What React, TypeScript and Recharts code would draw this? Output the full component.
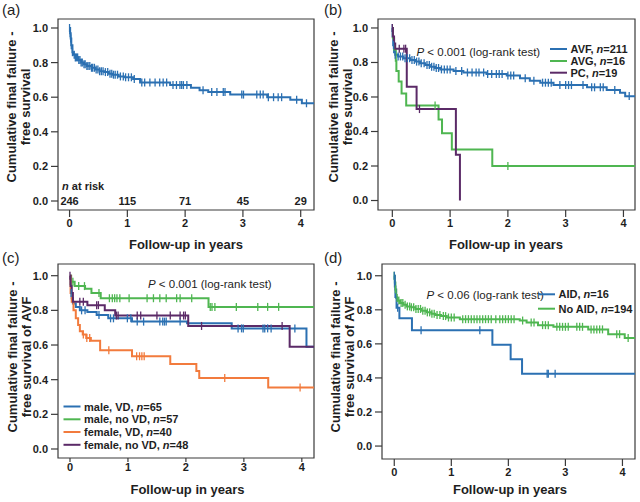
import React from 'react';
import { ComposedChart, Line, XAxis, YAxis, ReferenceArea, ReferenceDot } from 'recharts';

const FONT = '"Liberation Sans", Arial, Helvetica, sans-serif';
const C_BLUE = '#2b70b2';
const C_GREEN = '#4fb651';
const C_ORANGE = '#f27b3d';
const C_PURPLE = '#5b2a67';
const C_TEXT = '#1e1e1e';
const C_BOX = '#3a3a3a';

const X_TICKS = [0, 1, 2, 3, 4];
const Y_TICKS = [0, 0.2, 0.4, 0.6, 0.8, 1.0];

// ---------- Panel (a): all accesses ----------
const aTimes = [0, 0.01, 0.02, 0.03, 0.05, 0.07, 0.1, 0.15, 0.2, 0.25, 0.3, 0.38, 0.45, 0.52, 0.6, 0.68, 0.75, 0.85, 0.95, 1.1, 1.22, 1.74, 2.1, 2.25, 2.4, 2.78, 3.42, 3.82, 4.02];
const aSurv = [1.0, 0.97, 0.94, 0.9, 0.86, 0.845, 0.83, 0.815, 0.8, 0.79, 0.78, 0.77, 0.76, 0.75, 0.745, 0.735, 0.73, 0.72, 0.715, 0.705, 0.685, 0.67, 0.655, 0.64, 0.63, 0.615, 0.6, 0.585, 0.565];
const aCensor = [0.0, 0.01, 0.02, 0.03, 0.05, 0.08, 0.1, 0.12, 0.14, 0.16, 0.18, 0.2, 0.22, 0.25, 0.27, 0.3, 0.32, 0.35, 0.38, 0.4, 0.43, 0.46, 0.49, 0.52, 0.55, 0.58, 0.62, 0.66, 0.7, 0.73, 0.76, 0.79, 0.83, 0.88, 0.93, 0.97, 1.02, 1.07, 1.12, 1.25, 1.3, 1.39, 1.48, 1.56, 1.62, 1.68, 1.79, 1.85, 1.91, 1.94, 1.97, 2.03, 2.31, 2.46, 2.55, 2.66, 2.69, 2.98, 3.01, 3.24, 3.3, 3.35, 3.44, 3.53, 3.61, 3.67, 3.93, 4.1];
const aEnd = 4.23;
const riskTimes = [0, 1, 2, 3, 4];
const riskCounts = [246, 115, 71, 45, 29];

// ---------- Panel (b): access type ----------
const bAvfTimes = [0, 0.005, 0.015, 0.03, 0.05, 0.1, 0.19, 0.31, 0.4, 0.48, 0.57, 0.65, 0.74, 0.83, 1.06, 1.23, 1.63, 1.98, 2.21, 2.38, 2.56, 2.79, 3.37, 3.71, 3.94, 4.03];
const bAvfSurv = [1.0, 0.95, 0.9, 0.86, 0.845, 0.835, 0.825, 0.815, 0.805, 0.795, 0.785, 0.775, 0.768, 0.76, 0.75, 0.742, 0.733, 0.725, 0.708, 0.694, 0.683, 0.669, 0.656, 0.64, 0.625, 0.605];
const bAvfCensor = [0.0, 0.02, 0.05, 0.1, 0.14, 0.18, 0.22, 0.26, 0.3, 0.34, 0.38, 0.42, 0.46, 0.5, 0.55, 0.6, 0.64, 0.68, 0.72, 0.76, 0.8, 0.85, 0.9, 0.95, 1.0, 1.1, 1.2, 1.3, 1.38, 1.45, 1.5, 1.58, 1.65, 1.72, 1.8, 1.85, 1.9, 2.0, 2.05, 2.1, 2.3, 2.45, 2.6, 2.65, 2.7, 2.75, 2.9, 3.0, 3.05, 3.1, 3.3, 3.45, 3.5, 3.6, 3.65, 3.85, 4.1];
const bAvgTimes = [0, 0.01, 0.03, 0.06, 0.07, 0.11, 0.16, 0.24, 0.8, 0.86, 1.03, 1.73];
const bAvgSurv = [1.0, 0.94, 0.875, 0.81, 0.75, 0.69, 0.62, 0.55, 0.47, 0.39, 0.295, 0.2];
const bAvgCensor = [0.74, 2.0];
const bPcTimes = [0, 0.01, 0.03, 0.05, 0.25, 0.42, 1.1, 1.17];
const bPcSurv = [1.0, 0.95, 0.91, 0.88, 0.66, 0.53, 0.265, 0.0];
const bPcCensor = [0.0, 0.12, 0.2, 0.23, 0.47];
const bEnd = 4.2;

// ---------- Panel (c): sex x vascular disease ----------
const cMaleVdTimes = [0, 0.01, 0.02, 0.03, 0.05, 0.1, 0.17, 0.3, 0.46, 0.66, 1.07, 2.02, 2.79, 4.08];
const cMaleVdSurv = [1.0, 0.95, 0.9, 0.87, 0.84, 0.82, 0.8, 0.79, 0.773, 0.754, 0.735, 0.725, 0.696, 0.59];
const cMaleVdCensor = [0.02, 0.2, 0.26, 0.5, 0.7, 0.75, 0.99, 1.05, 1.16, 1.27, 1.55, 1.6, 1.63, 1.66, 1.9, 2.9, 2.96, 2.99, 3.33, 3.36, 3.41, 3.47, 3.88];
const cMaleNoVdTimes = [0, 0.02, 0.08, 0.26, 0.37, 0.53, 2.39];
const cMaleNoVdSurv = [1.0, 0.965, 0.94, 0.925, 0.9, 0.87, 0.82];
const cMaleNoVdCensor = [0.05, 0.15, 0.25, 0.5, 0.68, 0.73, 0.77, 0.81, 0.86, 1.02, 1.33, 1.44, 1.55, 1.66, 1.84, 1.9, 2.1, 2.42, 2.45, 2.5, 2.87, 3.24, 3.41, 3.6];
const cFemVdTimes = [0, 0.01, 0.03, 0.06, 0.1, 0.14, 0.17, 0.22, 0.28, 0.36, 0.52, 1.07, 1.73, 2.18, 2.23, 3.42];
const cFemVdSurv = [1.0, 0.9, 0.85, 0.8, 0.755, 0.715, 0.68, 0.66, 0.64, 0.625, 0.57, 0.535, 0.49, 0.45, 0.41, 0.355];
const cFemVdCensor = [0.23, 0.29, 0.34, 0.67, 1.15, 1.2, 1.24, 1.28, 2.67, 3.97];
const cFemNoVdTimes = [0, 0.01, 0.03, 0.05, 0.3, 0.6, 0.78, 2.04, 3.79];
const cFemNoVdSurv = [1.0, 0.94, 0.9, 0.85, 0.83, 0.8, 0.77, 0.71, 0.59];
const cFemNoVdCensor = [0.0, 0.17, 0.23, 0.46, 0.49, 0.8, 0.83, 1.16, 1.22, 1.5, 1.73, 1.9, 1.96, 1.99, 2.27, 3.66];
const cEnd = 4.21;

// ---------- Panel (d): AID ----------
const dAidTimes = [0, 0.01, 0.02, 0.04, 0.09, 0.31, 1.72, 2.04, 2.24];
const dAidSurv = [1.0, 0.9375, 0.875, 0.8125, 0.75, 0.68, 0.595, 0.51, 0.425];
const dAidCensor = [0.0, 0.06, 0.47, 1.5, 2.68, 2.7, 2.82];
const dNoAidTimes = [0, 0.01, 0.02, 0.035, 0.06, 0.1, 0.16, 0.22, 0.3, 0.37, 0.47, 0.57, 0.65, 0.72, 0.82, 0.92, 1.15, 2.2, 2.32, 2.52, 2.79, 3.4, 3.75, 4.04];
const dNoAidSurv = [1.0, 0.96, 0.92, 0.87, 0.855, 0.84, 0.83, 0.82, 0.815, 0.805, 0.795, 0.785, 0.777, 0.77, 0.763, 0.755, 0.745, 0.737, 0.725, 0.71, 0.7, 0.685, 0.657, 0.635];
const dNoAidCensor = [0.0, 0.02, 0.05, 0.08, 0.12, 0.15, 0.19, 0.23, 0.27, 0.3, 0.34, 0.38, 0.42, 0.46, 0.5, 0.54, 0.58, 0.62, 0.66, 0.7, 0.75, 0.8, 0.86, 0.9, 0.95, 1.0, 1.05, 1.2, 1.25, 1.3, 1.35, 1.4, 1.45, 1.5, 1.55, 1.6, 1.65, 1.7, 1.78, 1.85, 1.9, 1.95, 2.0, 2.05, 2.1, 2.25, 2.4, 2.45, 2.6, 2.65, 2.7, 2.85, 2.9, 2.95, 3.0, 3.05, 3.2, 3.25, 3.3, 3.45, 3.5, 3.55, 3.6, 3.65, 3.9, 3.95, 4.1];
const dEnd = 4.22;

type Pt = { t: number; s: number; c: boolean };

function buildCurve(times: number[], surv: number[], censor: number[], end: number | null): Pt[] {
  const pts: Pt[] = times.map((t, i) => ({ t, s: surv[i], c: false }));
  for (const t of censor) {
    let s = surv[0];
    for (let i = 0; i < times.length; i++) if (times[i] <= t) s = surv[i];
    pts.push({ t, s, c: true });
  }
  if (end !== null) pts.push({ t: end, s: surv[surv.length - 1], c: false });
  pts.sort((p, q) => p.t - q.t || (p.c === q.c ? 0 : p.c ? 1 : -1));
  return pts;
}

const censorDot = (color: string) => (props: any) => {
  const { cx, cy, payload, index } = props;
  if (!payload || !payload.c || cx == null || cy == null) return <g key={`n${index}`} />;
  return <line key={`c${index}`} x1={cx} x2={cx} y1={cy - 4} y2={cy + 4} stroke={color} strokeWidth={1.3} />;
};

const tickStyle = { fill: C_TEXT, fontSize: 11, fontWeight: 700, fontFamily: FONT };

type Cfg = {
  xDomain: [number, number];
  yDomain: [number, number];
  yWidth: number;
  xHeight: number;
  xTickSize: number;
  xTickMargin: number;
};

function axes(cfg: Cfg) {
  return [
    <XAxis
      key="x"
      type="number"
      dataKey="t"
      domain={cfg.xDomain}
      allowDataOverflow
      ticks={X_TICKS}
      interval={0}
      height={cfg.xHeight}
      tickSize={cfg.xTickSize}
      tickMargin={cfg.xTickMargin}
      axisLine={false}
      tickLine={{ stroke: C_BOX, strokeWidth: 1.2 }}
      tick={tickStyle}
    />,
    <YAxis
      key="y"
      type="number"
      dataKey="s"
      domain={cfg.yDomain}
      allowDataOverflow
      ticks={Y_TICKS}
      interval={0}
      width={cfg.yWidth}
      tickSize={7}
      tickMargin={3}
      axisLine={false}
      tickLine={{ stroke: C_BOX, strokeWidth: 1.2 }}
      tick={tickStyle}
      tickFormatter={(v: number) => v.toFixed(1)}
    />,
    <ReferenceArea
      key="box"
      x1={cfg.xDomain[0]}
      x2={cfg.xDomain[1]}
      y1={cfg.yDomain[0]}
      y2={cfg.yDomain[1]}
      fill="none"
      fillOpacity={0}
      stroke={C_BOX}
      strokeWidth={1.2}
      ifOverflow="visible"
    />,
  ];
}

function km(key: string, data: Pt[], color: string) {
  return (
    <Line
      key={key}
      data={data}
      dataKey="s"
      type="stepAfter"
      stroke={color}
      strokeWidth={2}
      dot={censorDot(color)}
      activeDot={false}
      isAnimationActive={false}
      legendType="none"
    />
  );
}

const cfgA: Cfg = { xDomain: [-0.2, 4.23], yDomain: [-0.052, 1.052], yWidth: 58, xHeight: 41, xTickSize: 7, xTickMargin: 2 };
const cfgB: Cfg = { xDomain: [-0.248, 4.2], yDomain: [-0.055, 1.052], yWidth: 58, xHeight: 41, xTickSize: 7, xTickMargin: 2 };
const cfgC: Cfg = { xDomain: [-0.207, 4.21], yDomain: [-0.052, 1.0675], yWidth: 58, xHeight: 44, xTickSize: 4, xTickMargin: 1 };
const cfgD: Cfg = { xDomain: [-0.215, 4.22], yDomain: [-0.076, 1.069], yWidth: 62, xHeight: 43, xTickSize: 7, xTickMargin: 2 };

const txt = { fontFamily: FONT, fill: C_TEXT } as const;

function YTitle({ x1, x2, cy, line2 }: { x1: number; x2: number; cy: number; line2: string }) {
  return (
    <g>
      <text transform="rotate(-90)" x={-cy} y={x1} textAnchor="middle" fontSize={13} fontWeight={700} {...txt}>
        Cumulative final failure -
      </text>
      <text transform="rotate(-90)" x={-cy} y={x2} textAnchor="middle" fontSize={13} fontWeight={700} {...txt}>
        {line2}
      </text>
    </g>
  );
}

function LegendItem({ x, y, color, label, n }: { x: number; y: number; color: string; label: string; n: number }) {
  return (
    <g>
      <line x1={x} x2={x + 17} y1={y} y2={y} stroke={color} strokeWidth={2} />
      <text x={x + 20.5} y={y + 4} fontSize={11} fontWeight={700} {...txt}>
        {label}
        <tspan fontStyle="italic">n</tspan>={n}
      </text>
    </g>
  );
}

export default function App() {
  return (
    <div style={{ position: 'absolute', left: 0, top: 0, width: 640, height: 502, background: '#fff' }}>
      <style>{'body{margin:0;background:#fff}'}</style>

      {/* (a) */}
      <div style={{ position: 'absolute', left: 0, top: 0 }}>
        <ComposedChart width={320} height={251} margin={{ top: 19, right: 6, bottom: 0, left: 0 }}>
          {axes(cfgA)}
          {km('a', buildCurve(aTimes, aSurv, aCensor, aEnd), C_BLUE)}
          {riskTimes.map((t, i) => (
            <ReferenceDot
              key={`r${i}`}
              x={t}
              y={0}
              r={0}
              fill="none"
              stroke="none"
              ifOverflow="visible"
              label={{ value: String(riskCounts[i]), position: 'center', fill: C_TEXT, fontSize: 11, fontWeight: 700, fontFamily: FONT }}
            />
          ))}
        </ComposedChart>
      </div>

      {/* (b) */}
      <div style={{ position: 'absolute', left: 320, top: 0 }}>
        <ComposedChart width={320} height={251} margin={{ top: 19, right: 5, bottom: 0, left: 0 }}>
          {axes(cfgB)}
          {km('avf', buildCurve(bAvfTimes, bAvfSurv, bAvfCensor, bEnd), C_BLUE)}
          {km('avg', buildCurve(bAvgTimes, bAvgSurv, bAvgCensor, bEnd), C_GREEN)}
          {km('pc', buildCurve(bPcTimes, bPcSurv, bPcCensor, null), C_PURPLE)}
        </ComposedChart>
      </div>

      {/* (c) */}
      <div style={{ position: 'absolute', left: 0, top: 251 }}>
        <ComposedChart width={320} height={251} margin={{ top: 13, right: 6, bottom: 0, left: 0 }}>
          {axes(cfgC)}
          {km('mvd', buildCurve(cMaleVdTimes, cMaleVdSurv, cMaleVdCensor, cEnd), C_BLUE)}
          {km('mnvd', buildCurve(cMaleNoVdTimes, cMaleNoVdSurv, cMaleNoVdCensor, cEnd), C_GREEN)}
          {km('fvd', buildCurve(cFemVdTimes, cFemVdSurv, cFemVdCensor, cEnd), C_ORANGE)}
          {km('fnvd', buildCurve(cFemNoVdTimes, cFemNoVdSurv, cFemNoVdCensor, cEnd), C_PURPLE)}
        </ComposedChart>
      </div>

      {/* (d) */}
      <div style={{ position: 'absolute', left: 320, top: 251 }}>
        <ComposedChart width={320} height={251} margin={{ top: 13, right: 5, bottom: 0, left: 0 }}>
          {axes(cfgD)}
          {km('noaid', buildCurve(dNoAidTimes, dNoAidSurv, dNoAidCensor, dEnd), C_GREEN)}
          {km('aid', buildCurve(dAidTimes, dAidSurv, dAidCensor, dEnd), C_BLUE)}
        </ComposedChart>
      </div>

      {/* annotations */}
      <svg width={640} height={502} style={{ position: 'absolute', left: 0, top: 0, pointerEvents: 'none' }}>
        {/* panel letters */}
        <text x={2} y={14.5} fontSize={15} {...txt}>(a)</text>
        <text x={324} y={14.5} fontSize={15} {...txt}>(b)</text>
        <text x={2} y={263} fontSize={15} {...txt}>(c)</text>
        <text x={324} y={263} fontSize={15} {...txt}>(d)</text>

        {/* y titles */}
        <YTitle x1={16} x2={30} cy={107} line2="free survival" />
        <YTitle x1={337.5} x2={352} cy={107} line2="free survival" />
        <YTitle x1={16.5} x2={30.5} cy={357} line2="free survival of AVF" />
        <YTitle x1={340} x2={354} cy={357} line2="free survival of AVF" />

        {/* x titles */}
        <text x={186} y={249} textAnchor="middle" fontSize={13} fontWeight={700} {...txt}>Follow-up in years</text>
        <text x={506} y={249} textAnchor="middle" fontSize={13} fontWeight={700} {...txt}>Follow-up in years</text>
        <text x={187.5} y={494} textAnchor="middle" fontSize={13} fontWeight={700} {...txt}>Follow-up in years</text>
        <text x={510} y={494} textAnchor="middle" fontSize={13} fontWeight={700} {...txt}>Follow-up in years</text>

        {/* n at risk */}
        <text x={62} y={190} fontSize={11} fontWeight={700} {...txt}>
          <tspan fontStyle="italic">n</tspan> at risk
        </text>

        {/* p-values */}
        <text x={416.5} y={55.5} fontSize={11.5} {...txt}>
          <tspan fontStyle="italic">P</tspan> &lt; 0.001 (log-rank test)
        </text>
        <text x={148} y={287.5} fontSize={11.5} {...txt}>
          <tspan fontStyle="italic">P</tspan> &lt; 0.001 (log-rank test)
        </text>
        <text x={426.5} y={299} fontSize={11.5} {...txt}>
          <tspan fontStyle="italic">P</tspan> &lt; 0.06 (log-rank test)
        </text>

        {/* legends */}
        <LegendItem x={550} y={49} color={C_BLUE} label="AVF, " n={211} />
        <LegendItem x={550} y={61} color={C_GREEN} label="AVG, " n={16} />
        <LegendItem x={550} y={72.7} color={C_PURPLE} label="PC, " n={19} />

        <LegendItem x={63.5} y={406.5} color={C_BLUE} label="male, VD, " n={65} />
        <LegendItem x={63.5} y={419.3} color={C_GREEN} label="male, no VD, " n={57} />
        <LegendItem x={63.5} y={432} color={C_ORANGE} label="female, VD, " n={40} />
        <LegendItem x={63.5} y={444.8} color={C_PURPLE} label="female, no VD, " n={48} />

        <LegendItem x={538} y={294.3} color={C_BLUE} label="AID, " n={16} />
        <LegendItem x={538} y={308.7} color={C_GREEN} label="No AID, " n={194} />
      </svg>
    </div>
  );
}
